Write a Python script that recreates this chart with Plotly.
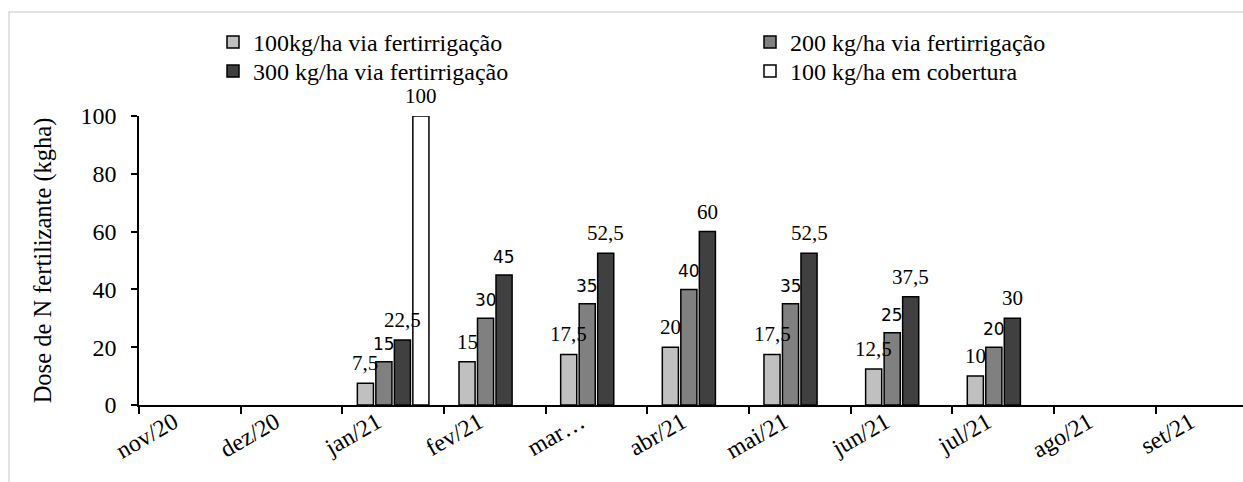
import plotly.graph_objects as go

months = ["nov/20", "dez/20", "jan/21", "fev/21", "mar…", "abr/21", "mai/21",
          "jun/21", "jul/21", "ago/21", "set/21"]
s100_fert = [None, None, 7.5, 15, 17.5, 20, 17.5, 12.5, 10, None, None]
s200_fert = [None, None, 15, 30, 35, 40, 35, 25, 20, None, None]
s300_fert = [None, None, 22.5, 45, 52.5, 60, 52.5, 37.5, 30, None, None]
s100_cob = [None, None, 100, None, None, None, None, None, None, None, None]
labels_100_fert = [None, None, "7,5", "15", "17,5", "20", "17,5", "12,5", "10", None, None]
labels_200_fert = [None, None, "15", "30", "35", "40", "35", "25", "20", None, None]
labels_300_fert = [None, None, "22,5", "45", "52,5", "60", "52,5", "37,5", "30", None, None]
labels_100_cob = [None, None, "100", None, None, None, None, None, None, None, None]
names = ["100kg/ha via fertirrigação", "200 kg/ha via fertirrigação",
         "300 kg/ha via fertirrigação", "100 kg/ha em cobertura"]
y_ticks = [0, 20, 40, 60, 80, 100]

series = [s100_fert, s200_fert, s300_fert, s100_cob]
labels = [labels_100_fert, labels_200_fert, labels_300_fert, labels_100_cob]
colors = ["#c0c0c0", "#808080", "#404040", "#ffffff"]
legend_ids = ["legend", "legend2", "legend3", "legend4"]

SERIF = "Liberation Serif"
SANS = "DejaVu Sans"
# font of each data label (per series, per category)
label_fonts = [
    [SERIF] * 11,
    [SANS] * 11,
    [SERIF, SERIF, SERIF, SANS, SERIF, SERIF, SERIF, SERIF, SERIF, SERIF, SERIF],
    [SERIF] * 11,
]

W, H = 1243, 482
ML, MR, MT, MB = 139, 0, 116, 77
plot_w = W - ML - MR
plot_h = H - MT - MB
xmax = 10.36
cat_px = plot_w / (xmax + 0.5)
BARGAP = 0.272
slot = cat_px * (1 - BARGAP) / 4

fig = go.Figure()
for i, (vals, nm, col) in enumerate(zip(series, names, colors)):
    fig.add_trace(go.Bar(
        x=months, y=vals, name=nm, legend=legend_ids[i],
        marker=dict(color=col, line=dict(color="black", width=1.5)),
    ))

annotations = []
for i, (vals, labs) in enumerate(zip(series, labels)):
    for j, (v, t) in enumerate(zip(vals, labs)):
        if v is None or t is None:
            continue
        fam = label_fonts[i][j]
        annotations.append(dict(
            x=months[j], y=v, xref="x", yref="y", text=t, showarrow=False,
            xanchor="center", yanchor="bottom", xshift=(i - 1.5) * slot, yshift=7,
            borderpad=0,
            font=dict(family=fam, size=21 if fam == SERIF else 17, color="black"),
        ))


def leg(px_x, px_top):
    return dict(
        orientation="v", xanchor="left", yanchor="top",
        x=(px_x - ML) / plot_w, y=(H - MB - px_top) / plot_h,
        font=dict(family=SERIF, size=24, color="black"),
        bgcolor="rgba(0,0,0,0)",
    )


fig.update_layout(
    width=W, height=H,
    margin=dict(l=ML, r=MR, t=MT, b=MB),
    paper_bgcolor="white", plot_bgcolor="white",
    barmode="group", bargap=BARGAP, bargroupgap=0.13,
    font=dict(family=SERIF, size=22, color="black"),
    annotations=annotations,
    legend=leg(213, 20),
    legend2=leg(750, 20),
    legend3=leg(213, 49),
    legend4=leg(750, 49),
    showlegend=True,
    shapes=[dict(
        type="rect", xref="paper", yref="paper",
        x0=(9 - ML) / plot_w, x1=1.2,
        y0=-0.6, y1=(H - MB - 12) / plot_h,
        line=dict(color="#d9d9d9", width=1.5), fillcolor="rgba(0,0,0,0)",
        layer="below",
    )],
)
fig.update_xaxes(
    type="category", range=[-0.5, xmax],
    showline=True, linecolor="black", linewidth=1.5,
    ticks="outside", tickson="boundaries", ticklen=7, tickcolor="black", tickwidth=1.5,
    tickangle=-30, tickfont=dict(family=SERIF, size=24),
    ticklabelshift=-16, ticklabelstandoff=-8,
    showgrid=False, zeroline=False,
)
fig.update_yaxes(
    range=[0, 100], tickvals=y_ticks,
    showline=True, linecolor="black", linewidth=1.5,
    ticks="outside", ticklen=6, tickcolor="black", tickwidth=1.5,
    tickfont=dict(family=SERIF, size=24), ticklabelstandoff=10,
    showgrid=False, zeroline=False,
    title=dict(text="Dose de N fertilizante (kgha)", font=dict(family=SERIF, size=24.5), standoff=22),
)

fig.write_html("out.html")
